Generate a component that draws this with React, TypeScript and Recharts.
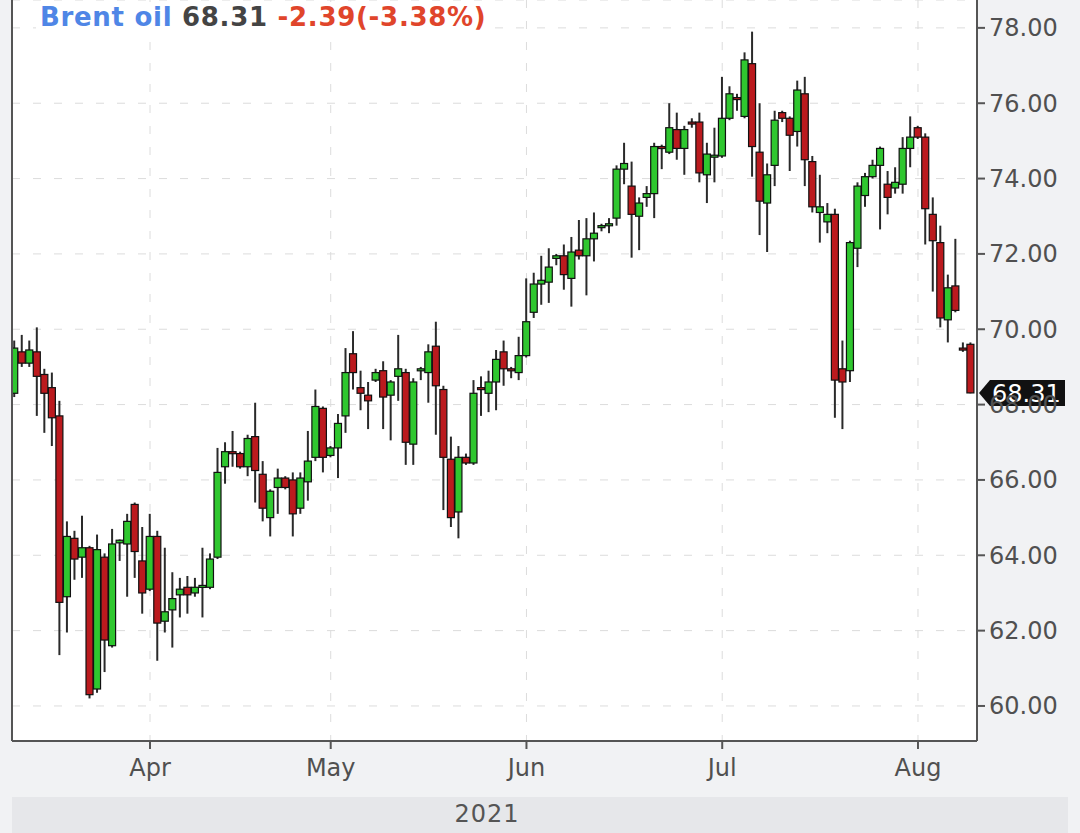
import { Bar, CartesianGrid, ComposedChart, ReferenceLine, XAxis, YAxis } from "recharts";

// Brent daily candles, 11 Mar - 9 Aug 2021 (Sun-Fri sessions)
const opens = [
  68.3, 69.4, 69.1, 69.4, 68.8, 68.45, 67.7, 62.9, 64.45, 63.95, 64.2, 60.45, 63.95, 61.6, 64.33, 64.3, 65.35, 63.85,
  63.1, 64.5, 62.25, 62.55, 62.95, 63.15, 63.0, 63.15, 63.15, 63.95, 66.35, 66.75, 66.7, 66.35, 67.15, 66.15, 65.0, 65.8, 66.05, 66.0, 65.25, 65.95, 66.6, 67.9,
  66.65, 66.85, 67.7, 69.35, 68.45, 68.25, 68.65, 68.9, 68.25, 68.75, 68.85, 66.95, 68.9, 68.85, 69.55, 68.4, 66.55, 65.15, 66.6, 66.45, 68.45, 68.3, 68.6, 69.4, 68.95, 68.85,
  69.3, 70.45, 71.2, 71.25, 71.88, 71.95, 71.35, 72.1, 71.95, 72.4, 72.7, 72.75, 72.95, 74.25, 73.8, 73.0, 73.5, 73.6, 74.85, 74.7, 75.3, 74.8, 75.5, 75.5, 74.1, 74.6,
  74.6, 75.6, 76.15, 75.65, 77.05, 74.7, 73.35, 74.35, 75.75, 75.6, 75.25, 76.25, 74.45, 73.1, 72.85, 73.05, 68.95, 68.9, 72.15, 73.55, 74.05, 74.35, 73.85, 73.75, 73.85, 74.8,
  75.35, 75.1, 73.05, 72.3, 70.25, 71.15, 69.5, 69.6,
];
const highs = [
  69.7, 69.85, 69.7, 70.05, 68.95, 68.85, 68.1, 64.9, 64.65, 65.05, 64.25, 64.55, 64.05, 64.7, 64.42, 65.1, 65.4, 64.75,
  65.1, 64.65, 64.2, 63.55, 63.4, 63.45, 63.4, 64.2, 64.05, 66.85, 67.0, 67.3, 66.75, 67.2, 68.05, 66.5, 65.75, 66.3, 66.1, 66.2, 66.2, 67.3, 68.4, 67.95,
  66.9, 67.75, 69.5, 69.95, 68.9, 68.6, 68.95, 69.15, 68.65, 69.85, 68.95, 68.7, 69.0, 69.6, 70.2, 68.5, 67.15, 66.9, 66.7, 68.65, 68.75, 68.9, 69.45, 69.7, 69.0, 69.8,
  71.35, 71.5, 71.95, 72.15, 72.0, 72.25, 72.45, 72.9, 72.95, 73.1, 72.8, 72.95, 74.35, 74.95, 74.45, 73.5, 73.8, 74.95, 74.9, 76.0, 75.75, 75.4, 75.6, 75.75, 74.95, 75.35,
  76.7, 76.45, 76.25, 77.35, 77.9, 76.0, 74.4, 75.8, 75.8, 75.65, 76.6, 76.7, 74.6, 74.1, 73.35, 73.2, 69.7, 72.35, 73.9, 74.15, 74.5, 74.85, 74.2, 74.3, 75.1, 75.65,
  75.4, 75.2, 73.5, 72.75, 71.45, 72.4, 69.65, 69.65,
];
const lows = [
  68.2, 69.0, 69.0, 67.7, 67.25, 66.9, 61.35, 61.95, 63.35, 63.4, 60.2, 60.35, 60.9, 61.55, 63.85, 62.9, 63.4, 62.45,
  63.05, 61.2, 61.95, 61.55, 62.35, 62.45, 62.9, 62.35, 63.1, 63.9, 65.9, 66.35, 66.3, 66.1, 65.4, 64.9, 64.5, 65.1, 65.75, 64.5, 65.1, 65.45, 66.5, 66.2,
  66.6, 66.05, 67.25, 68.4, 67.85, 67.35, 68.6, 67.35, 67.05, 68.1, 66.4, 66.4, 68.65, 68.05, 67.2, 65.2, 64.75, 64.45, 66.4, 66.4, 67.7, 67.8, 67.85, 68.5, 68.7, 68.65,
  69.25, 70.3, 70.65, 70.7, 71.7, 71.05, 70.6, 71.85, 70.9, 71.8, 72.6, 72.55, 72.75, 73.85, 71.9, 72.1, 73.25, 72.95, 74.25, 74.65, 74.5, 74.1, 75.35, 73.9, 73.35, 73.9,
  74.55, 75.55, 75.8, 75.6, 74.05, 72.5, 72.05, 73.8, 75.5, 74.2, 74.85, 73.8, 73.1, 72.3, 72.55, 67.65, 67.35, 68.6, 71.65, 73.25, 74.0, 72.65, 73.05, 73.6, 73.6, 74.3,
  75.05, 72.25, 71.0, 70.05, 69.65, 70.45, 69.4, 68.3,
];
const closes = [
  69.5, 69.1, 69.45, 68.75, 68.3, 67.65, 62.75, 64.5, 63.9, 64.2, 60.3, 64.15, 61.75, 64.3, 64.4, 64.9, 64.1, 63.0,
  64.5, 62.2, 62.5, 62.85, 63.1, 62.95, 63.15, 63.2, 63.9, 66.2, 66.75, 66.7, 66.35, 67.1, 66.25, 65.25, 65.7, 66.05, 65.8, 65.1, 66.05, 66.5, 67.95, 66.6,
  66.85, 67.5, 68.85, 68.85, 68.3, 68.1, 68.85, 68.2, 68.6, 68.95, 67.0, 68.6, 68.95, 69.4, 68.5, 66.6, 65.0, 66.6, 66.45, 68.3, 68.4, 68.6, 69.2, 68.95, 68.9, 69.3,
  70.2, 71.2, 71.3, 71.65, 71.95, 71.45, 72.05, 71.95, 72.4, 72.55, 72.75, 72.8, 74.25, 74.4, 73.05, 73.35, 73.6, 74.85, 74.8, 75.35, 74.8, 75.3, 75.45, 74.15, 74.65, 74.62,
  75.6, 76.25, 76.1, 77.15, 74.85, 73.4, 74.1, 75.55, 75.6, 75.15, 76.35, 74.5, 73.25, 73.25, 73.05, 68.65, 68.6, 72.3, 73.8, 74.05, 74.35, 74.8, 73.5, 73.9, 74.8, 75.1,
  75.1, 73.2, 72.35, 70.3, 71.1, 70.5, 69.45, 68.31,
];

const monthTicks = [18, 42, 68, 94, 120];
const monthLabels = ["Apr", "May", "Jun", "Jul", "Aug"];
const priceTicks = [60, 62, 64, 66, 68, 70, 72, 74, 76, 78];

const lastPrice = 68.31;
const change = "-2.39";
const changePct = "-3.38%";

const data = opens.map((open, i) => ({
  i,
  open,
  high: highs[i],
  low: lows[i],
  close: closes[i],
  range: [lows[i], highs[i]],
}));

const FONT = "DejaVu Sans";
const AXIS = "#555";

function Candle(props: any) {
  const { x, y, width, height, payload } = props;
  const { open, close, high, low } = payload;
  const top = Math.min(y, y + height);
  const h = Math.abs(height);
  const py = (v: number) => top + ((high - v) / (high - low)) * h;
  const cx = x + width / 2;
  const yo = py(open);
  const yc = py(close);
  const up = close >= open;
  const bodyTop = Math.min(yo, yc);
  const bodyH = Math.max(Math.abs(yc - yo), 2);
  return (
    <g>
      <line x1={cx} x2={cx} y1={top} y2={top + h} stroke="#2a2a2a" strokeWidth={2} />
      <rect
        x={cx - 3.5}
        y={bodyTop}
        width={7}
        height={bodyH}
        fill={up ? "#2fc72f" : "#bb1a1e"}
        stroke="#111"
        strokeWidth={1.2}
      />
    </g>
  );
}

function PriceTag(props: any) {
  const { viewBox } = props;
  const ax = viewBox.x + viewBox.width + 2;
  const cy = viewBox.y;
  return (
    <g>
      <polygon
        points={`${ax},${cy} ${ax + 11},${cy - 13} ${ax + 86},${cy - 13} ${ax + 86},${cy + 13} ${ax + 11},${cy + 13}`}
        fill="#111"
      />
      <text x={ax + 13} y={cy + 9} fill="#fff" fontSize={24} fontFamily={FONT}>
        {lastPrice.toFixed(2)}
      </text>
    </g>
  );
}

export default function App() {
  return (
    <div
      style={{
        position: "absolute",
        left: 0,
        top: 0,
        width: 1080,
        height: 833,
        background: "#f1f2f4",
        overflow: "hidden",
        fontFamily: FONT,
      }}
    >
      <div
        style={{
          position: "absolute",
          left: 12,
          top: 797,
          width: 1056,
          height: 36,
          background: "#e6e7ea",
        }}
      />
      <ComposedChart
        width={1080}
        height={833}
        data={data}
        margin={{ top: 0, right: 0, left: 12, bottom: 36 }}
        style={{ position: "absolute", left: 0, top: 0 }}
      >
        <CartesianGrid stroke="#dcdcdc" strokeDasharray="8 13" fill="#ffffff" />
        <XAxis
          dataKey="i"
          type="number"
          domain={[-0.33, 127.84]}
          allowDataOverflow
          ticks={monthTicks}
          tickFormatter={(v) => monthLabels[monthTicks.indexOf(v)]}
          height={56}
          tickSize={8}
          tickMargin={10}
          axisLine={{ stroke: AXIS, strokeWidth: 2 }}
          tickLine={{ stroke: AXIS, strokeWidth: 2 }}
          tick={{ fill: "#505050", fontSize: 24, fontFamily: FONT }}
        />
        <YAxis
          orientation="right"
          type="number"
          domain={[59.07, 78.74]}
          allowDataOverflow
          ticks={priceTicks}
          tickFormatter={(v) => v.toFixed(2)}
          width={103}
          tickSize={8}
          tickMargin={4}
          axisLine={{ stroke: AXIS, strokeWidth: 2 }}
          tickLine={{ stroke: AXIS, strokeWidth: 2 }}
          tick={{ fill: "#505050", fontSize: 24, fontFamily: FONT }}
        />
        <ReferenceLine x={-0.33} stroke={AXIS} strokeWidth={2} ifOverflow="visible" />
        <Bar dataKey="range" barSize={7} shape={(p: any) => <Candle {...p} />} isAnimationActive={false} />
        <ReferenceLine y={lastPrice} stroke="none" label={(p: any) => <PriceTag {...p} />} />
      </ComposedChart>
      <div
        style={{
          position: "absolute",
          left: 36,
          top: 2,
          padding: "0 4px",
          background: "#fff",
          fontSize: 26,
          lineHeight: "30px",
          fontWeight: "bold",
          letterSpacing: 0.7,
          whiteSpace: "nowrap",
        }}
      >
        <span style={{ color: "#4f86e6" }}>Brent oil</span>{" "}
        <span style={{ color: "#444" }}>{lastPrice.toFixed(2)}</span>{" "}
        <span style={{ color: "#e0452b" }}>
          {change}({changePct})
        </span>
      </div>
      <div
        style={{
          position: "absolute",
          left: 487,
          top: 799,
          transform: "translateX(-50%)",
          fontSize: 24,
          lineHeight: "30px",
          color: "#555",
          letterSpacing: 1,
        }}
      >
        2021
      </div>
    </div>
  );
}
